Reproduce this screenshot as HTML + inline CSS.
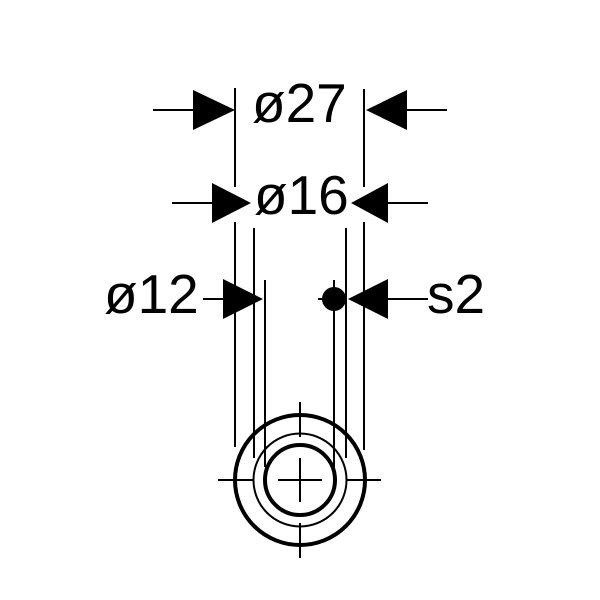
<!DOCTYPE html>
<html><head><style>html,body{margin:0;padding:0;background:#fff}svg{display:block}</style></head>
<body>
<svg width="600" height="600" viewBox="0 0 600 600" xmlns="http://www.w3.org/2000/svg">
<g stroke="#000" stroke-width="2" fill="none">
<!-- extension lines -->
<line x1="235" y1="88" x2="235" y2="187"/>
<line x1="235" y1="222" x2="235" y2="447"/>
<line x1="364" y1="89" x2="364" y2="187"/>
<line x1="364" y1="222" x2="364" y2="450"/>
<line x1="254" y1="228" x2="254" y2="458"/>
<line x1="346" y1="228" x2="346" y2="458"/>
<line x1="265" y1="280" x2="265" y2="467"/>
<line x1="334" y1="280" x2="334" y2="467"/>
<!-- dim lines -->
<line x1="153" y1="110" x2="195" y2="110"/>
<line x1="405" y1="110" x2="447" y2="110"/>
<line x1="172" y1="203" x2="214" y2="203"/>
<line x1="386" y1="203" x2="428" y2="203"/>
<line x1="203" y1="299" x2="225" y2="299"/>
<line x1="386" y1="299" x2="428" y2="299"/>
<line x1="318" y1="299" x2="334" y2="299"/>
<!-- circles -->
<circle cx="300" cy="480" r="65" stroke-width="4"/>
<circle cx="300" cy="480" r="46.5" stroke-width="2"/>
<circle cx="300" cy="480" r="35" stroke-width="4"/>
<!-- center lines -->
<line x1="218" y1="480" x2="253" y2="480"/>
<line x1="278" y1="480" x2="322" y2="480"/>
<line x1="347" y1="480" x2="381" y2="480"/>
<line x1="300" y1="402" x2="300" y2="437"/>
<line x1="300" y1="458" x2="300" y2="502"/>
<line x1="300" y1="523" x2="300" y2="558"/>
</g>
<g fill="#000">
<polygon points="193,90 235,110 193,130"/>
<polygon points="407,90 366,110 407,130"/>
<polygon points="212,183 251,203 212,223"/>
<polygon points="388,183 351,203 388,223"/>
<polygon points="223,279 263,299 223,319"/>
<polygon points="388,279 348,299 388,319"/>
<circle cx="334" cy="299" r="12"/>
</g>
<g font-family="Liberation Sans, sans-serif" font-size="55" fill="#000">
<text x="252" y="122">ø27</text>
<text x="254" y="214">ø16</text>
<text x="104" y="313">ø12</text>
<text x="427" y="313">s2</text>
</g>
</svg>
</body></html>
